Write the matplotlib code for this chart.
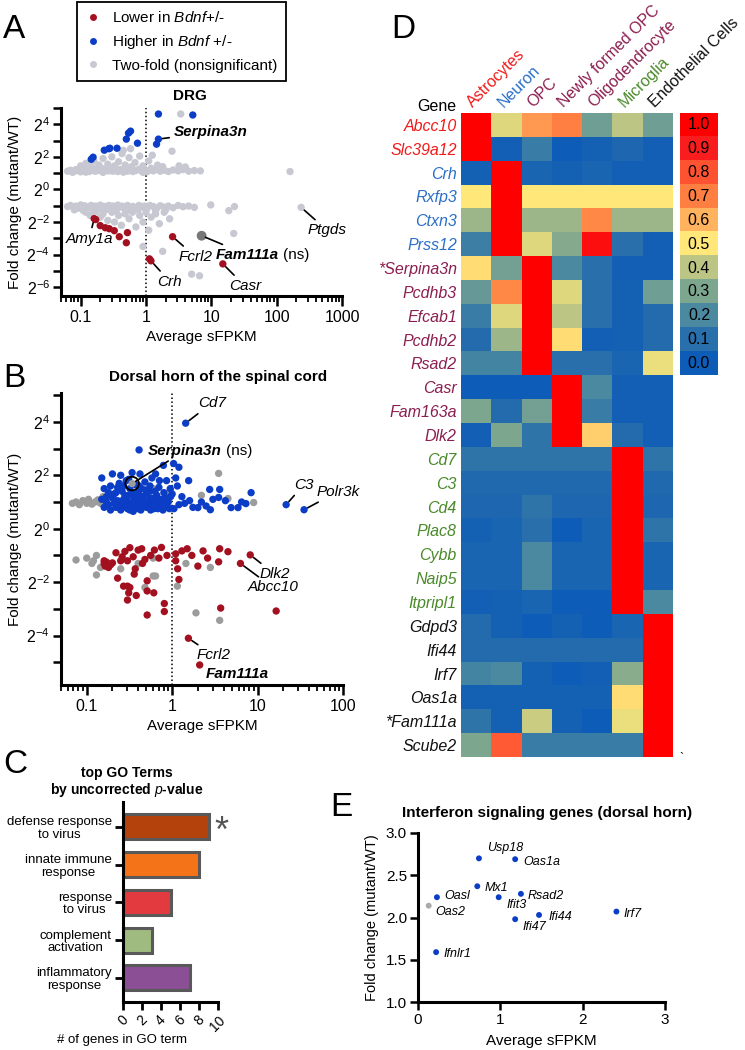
import numpy as np
import matplotlib
matplotlib.use("Agg")
import matplotlib.pyplot as plt
from matplotlib.colors import LinearSegmentedColormap
from matplotlib.lines import Line2D
from matplotlib.text import Text
from matplotlib.ticker import FixedLocator, FuncFormatter, LogLocator, NullFormatter

plt.rcParams["font.family"] = ["Liberation Sans", "DejaVu Sans"]
plt.rcParams["mathtext.fontset"] = "custom"
plt.rcParams["mathtext.rm"] = "Liberation Sans"
plt.rcParams["mathtext.it"] = "Liberation Sans:italic"
plt.rcParams["mathtext.bf"] = "Liberation Sans:bold"
plt.rcParams["mathtext.default"] = "regular"

# ── Panel A data: DRG (average sFPKM, log2 fold change) ─────────
drg_higher = [(5.2, 4.57), (0.58, 3.58), (0.54, 3.46), (0.50, 3.09), (0.74, 2.84),
              (1.45, 2.78), (0.36, 2.53), (0.28, 2.53), (0.27, 2.50), (0.23, 2.41),
              (0.155, 1.98), (0.145, 1.85), (1.55, 4.63)]
drg_lower = [(0.17, -1.85), (0.199, -2.22), (0.238, -2.35), (0.274, -2.41), (0.327, -2.53),
             (0.39, -2.90), (0.52, -2.65), (0.50, -3.27), (1.13, -4.26)]
drg_ns = [
    # upper two-fold band
    (0.063, 1.12), (0.07, 1.18), (0.078, 1.10), (0.085, 1.22), (0.092, 1.15), (0.10, 1.08),
    (0.108, 1.20), (0.115, 1.14), (0.125, 1.25), (0.135, 1.10), (0.145, 1.18), (0.155, 1.30),
    (0.17, 1.12), (0.185, 1.20), (0.20, 1.16), (0.215, 1.28), (0.23, 1.10), (0.25, 1.20),
    (0.27, 1.14), (0.29, 1.24), (0.31, 1.12), (0.34, 1.18), (0.37, 1.10), (0.40, 1.22),
    (0.43, 1.15), (0.47, 1.30), (0.52, 1.12), (0.57, 1.20), (0.63, 1.10), (0.70, 1.16),
    (0.78, 1.24), (0.86, 1.12), (0.95, 1.18), (1.05, 1.10), (1.15, 1.20), (1.30, 1.14),
    (1.45, 1.26), (1.65, 1.12), (1.90, 1.18), (2.20, 1.10), (2.60, 1.20), (3.10, 1.14),
    (3.70, 1.22), (4.50, 1.12), (5.50, 1.16), (6.80, 1.14), (160, 1.10),
    (0.075, 1.05), (0.095, 1.20), (0.12, 1.06), (0.16, 1.15), (0.22, 1.05), (0.33, 1.27),
    (0.45, 1.06), (0.60, 1.25), (0.90, 1.05), (1.20, 1.30),
    # upper scatter
    (0.10, 1.45), (0.12, 1.60), (0.14, 1.40), (0.16, 1.75), (0.19, 1.50), (0.22, 1.90),
    (0.26, 1.55), (0.30, 2.00), (0.33, 1.45), (0.38, 1.70), (0.43, 2.20), (0.48, 1.50),
    (0.55, 1.95), (0.60, 1.40), (0.68, 1.65), (0.80, 2.05), (0.90, 1.45), (1.10, 1.75),
    (1.25, 2.10), (1.50, 1.50), (1.80, 1.40), (2.50, 2.35), (0.58, 2.50), (0.45, 2.40),
    (3.20, 1.45), (4.00, 1.38), (3.40, 4.63),
    # lower two-fold band
    (0.063, -1.05), (0.07, -0.98), (0.078, -1.10), (0.085, -1.02), (0.092, -1.15), (0.10, -0.95),
    (0.108, -1.08), (0.115, -1.00), (0.125, -1.12), (0.135, -1.05), (0.145, -0.98), (0.155, -1.20),
    (0.17, -1.02), (0.185, -1.10), (0.20, -0.96), (0.215, -1.15), (0.23, -1.04), (0.25, -1.22),
    (0.27, -0.98), (0.29, -1.10), (0.31, -1.02), (0.34, -1.18), (0.37, -0.96), (0.40, -1.08),
    (0.43, -1.02), (0.47, -1.20), (0.52, -0.98), (0.57, -1.10), (0.63, -1.04), (0.70, -1.15),
    (0.78, -0.98), (0.86, -1.08), (0.95, -1.02), (1.05, -1.12), (1.15, -0.98), (1.30, -1.05),
    (1.45, -1.15), (1.65, -1.00), (1.90, -1.08), (2.20, -1.02), (2.60, -1.12), (3.10, -0.98),
    (3.70, -1.06), (4.50, -1.02), (5.50, -1.10), (9.8, -0.95), (18.5, -1.30), (22.6, -1.05),
    (0.08, -1.25), (0.11, -1.30), (0.14, -1.12), (0.18, -1.25), (0.24, -1.10), (0.35, -1.30),
    (0.50, -1.28), (0.75, -1.25), (1.00, -1.25), (1.40, -1.30), (2.00, -1.25),
    # lower scatter
    (0.12, -1.40), (0.14, -1.60), (0.17, -1.35), (0.20, -1.70), (0.22, -1.50), (0.26, -1.90),
    (0.30, -1.40), (0.33, -2.00), (0.38, -1.60), (0.42, -2.20), (0.48, -1.50), (0.55, -1.80),
    (0.62, -1.40), (0.70, -2.30), (0.80, -1.60), (0.90, -2.00), (1.00, -1.40), (1.10, -2.50),
    (1.20, -1.70), (1.40, -1.50), (1.60, -2.10), (1.90, -1.40), (2.30, -1.80), (0.90, -3.50),
    (1.80, -3.80), (22.0, -2.70), (5.0, -5.20), (6.6, -5.30),
]
# labelled genes: name, group, sFPKM, log2FC
drg_named = [("Serpina3n", "higher", 1.55, 3.09), ("Amy1a", "lower", 0.161, -1.79),
             ("Crh", "lower", 1.19, -4.38), ("Fcrl2", "lower", 2.55, -2.90),
             ("Fam111a", "ns_dark", 7.1, -2.84), ("Casr", "lower", 15.0, -4.57),
             ("Ptgds", "ns", 237, -1.10)]

# ── Panel B data: dorsal horn ─────────────────────────────────────
dh_higher = [
    (0.41, 2.95), (0.79, 2.37), (1.04, 2.44), (1.20, 2.30), (1.56, 1.80), (2.75, 1.47),
    (3.60, 1.47), (8.40, 1.35), (7.30, 0.94), (5.90, 0.79), (4.90, 0.79), (2.80, 0.71),
    (2.00, 0.79), (3.50, 1.17), (1.10, 1.90), (1.15, 1.60), (1.30, 1.20), (1.40, 0.95),
    (1.60, 1.05), (1.75, 0.80), (2.20, 1.00), (2.50, 0.85), (1.05, 0.75), (1.20, 0.90),
    (1.00, 1.30), (4.20, 1.05), (3.00, 1.10), (6.50, 1.00),
    (0.15, 1.90), (0.16, 1.50), (0.17, 1.20), (0.18, 0.90), (0.19, 1.60), (0.20, 2.05),
    (0.21, 1.30), (0.22, 0.80), (0.23, 1.05), (0.24, 1.70), (0.25, 0.70), (0.26, 1.40),
    (0.27, 1.10), (0.28, 0.90), (0.29, 1.80), (0.30, 0.75), (0.31, 1.25), (0.32, 1.50),
    (0.33, 0.95), (0.34, 2.10), (0.35, 0.65), (0.36, 1.15), (0.37, 1.65), (0.38, 0.85),
    (0.39, 1.35), (0.40, 1.00), (0.42, 2.05), (0.43, 0.70), (0.44, 1.50), (0.45, 1.20),
    (0.47, 0.90), (0.48, 1.75), (0.50, 0.80), (0.52, 1.05), (0.54, 1.40), (0.56, 0.70),
    (0.58, 1.90), (0.60, 1.00), (0.62, 0.85), (0.64, 2.05), (0.66, 1.25), (0.68, 0.75),
    (0.70, 1.55), (0.72, 0.95), (0.75, 1.10), (0.78, 0.70), (0.80, 1.35), (0.83, 0.85),
    (0.86, 1.80), (0.90, 1.00), (0.93, 0.75), (0.96, 1.20),
    (0.16, 0.80), (0.17, 1.00), (0.19, 0.70), (0.20, 1.15), (0.22, 1.35), (0.24, 0.95),
    (0.26, 0.80), (0.28, 1.25), (0.30, 1.05), (0.32, 0.70), (0.34, 1.30), (0.36, 0.90),
    (0.38, 1.10), (0.40, 0.75), (0.42, 1.25), (0.44, 0.85), (0.46, 1.00), (0.50, 1.30),
    (0.53, 0.90), (0.57, 1.15), (0.61, 0.75), (0.65, 0.95), (0.69, 1.10), (0.74, 0.85),
    (0.79, 1.00), (0.85, 1.15), (0.88, 0.80), (0.18, 1.35), (0.23, 1.55), (0.27, 1.60),
    (0.31, 1.85), (0.25, 2.00), (0.41, 1.60), (0.49, 1.45), (0.55, 1.60), (0.63, 1.40),
    (0.71, 1.80), (0.95, 1.50), (0.15, 1.10), (0.21, 0.95),
]
dh_lower = [
    (0.32, -0.71), (0.44, -0.75), (0.16, -1.20), (0.175, -1.30), (0.25, -1.20), (0.56, -1.00),
    (1.10, -0.94), (1.30, -0.83), (1.70, -1.00), (2.30, -0.83), (3.60, -0.75), (4.50, -0.86),
    (0.87, -1.00), (0.16, -1.30), (0.165, -1.40), (0.17, -1.25), (0.18, -1.45), (0.19, -1.35),
    (0.20, -1.28), (0.23, -1.85), (0.27, -2.15), (0.30, -2.15), (0.32, -2.20), (0.31, -2.40),
    (0.30, -2.67), (0.38, -2.50), (0.51, -1.95), (0.51, -2.33), (0.61, -2.40), (0.51, -3.23),
    (0.81, -2.80), (0.81, -3.10), (0.36, -1.70), (0.37, -1.50), (0.30, -1.20), (1.16, -1.50),
    (1.20, -1.90), (1.10, -1.20), (2.00, -1.40), (3.50, -1.24), (3.70, -2.97), (16.5, -3.08),
    (0.22, -0.90), (0.28, -0.85), (0.35, -1.05), (0.40, -0.80), (0.48, -1.15), (0.62, -0.80),
    (0.70, -1.10), (0.75, -0.70), (1.50, -0.75), (2.60, -1.10), (0.45, -1.30), (0.26, -1.05),
]
dh_ns = [
    (0.068, 0.95), (0.075, 1.00), (0.082, 0.90), (0.09, 1.05), (0.10, 0.95), (0.105, 1.10),
    (0.115, 0.92), (0.125, 1.00), (0.135, 1.08), (0.145, 0.95), (0.155, 1.20), (0.34, 0.98),
    (0.95, 1.43), (0.90, 1.30), (3.50, 2.07), (4.50, 1.13), (9.00, 0.98), (2.20, 1.25),
    (0.45, 1.10), (0.60, 1.50),
    (0.075, -1.17), (0.115, -1.30), (0.12, -1.20), (0.13, -1.73), (0.13, -1.00), (0.145, -1.45),
    (0.40, -1.30), (0.60, -1.77), (0.64, -1.77), (0.60, -1.10), (1.15, -2.15), (1.45, -1.30),
    (2.80, -1.45), (1.90, -3.15), (3.60, -3.43), (0.48, -2.20), (0.10, -1.10), (0.25, -1.50),
]
dh_named = [("Cd7", "higher", 1.44, 3.95), ("Serpina3n", "ns", 0.34, 1.69),
            ("C3", "higher", 21.6, 0.90), ("Polr3k", "higher", 35.0, 0.71),
            ("Dlk2", "lower", 8.2, -0.98), ("Abcc10", "lower", 6.3, -1.30),
            ("Fcrl2", "lower", 1.55, -4.10), ("Fam111a", "lower", 2.1, -5.10)]

# ── Panel C data ────────────────────────────────────────────────
go_terms = ["defense response\nto virus", "innate immune\nresponse", "response\nto virus",
            "complement\nactivation", "inflammatory\nresponse"]
go_counts = [9, 8, 5, 3, 7]
go_colors = ["#b4420c", "#f47318", "#e23a3f", "#9fbb80", "#8b4f95"]

# ── Panel D data ────────────────────────────────────────────────
cell_types = ["Astrocytes", "Neuron", "OPC", "Newly formed OPC", "Oligodendrocyte",
              "Microglia", "Endothelial Cells"]
cell_colors = ["#f01a1a", "#2a6fc8", "#8b1e50", "#8b1e50", "#8b1e50", "#4a8a2a", "#111111"]
genes = ["Abcc10", "Slc39a12", "Crh", "Rxfp3", "Ctxn3", "Prss12", "*Serpina3n", "Pcdhb3",
         "Efcab1", "Pcdhb2", "Rsad2", "Casr", "Fam163a", "Dlk2", "Cd7", "C3", "Cd4", "Plac8",
         "Cybb", "Naip5", "Itpripl1", "Gdpd3", "Ifi44", "Irf7", "Oas1a", "*Fam111a", "Scube2"]
gene_colors = (["#f01a1a"] * 2 + ["#2a6fc8"] * 4 + ["#8b1e50"] * 8 + ["#4a8a2a"] * 7
               + ["#111111"] * 6)
expr = [
    [1.00, 0.45, 0.65, 0.70, 0.27, 0.40, 0.27],
    [1.00, 0.02, 0.15, 0.00, 0.03, 0.06, 0.02],
    [0.03, 1.00, 0.05, 0.03, 0.05, 0.02, 0.02],
    [0.50, 1.00, 0.50, 0.50, 0.50, 0.50, 0.50],
    [0.35, 1.00, 0.35, 0.35, 0.68, 0.35, 0.35],
    [0.16, 1.00, 0.45, 0.31, 0.95, 0.10, 0.02],
    [0.52, 0.28, 1.00, 0.20, 0.10, 0.02, 0.02],
    [0.25, 0.68, 1.00, 0.45, 0.10, 0.03, 0.27],
    [0.15, 0.45, 1.00, 0.40, 0.10, 0.03, 0.08],
    [0.08, 0.35, 1.00, 0.52, 0.02, 0.03, 0.08],
    [0.18, 0.18, 1.00, 0.10, 0.10, 0.05, 0.47],
    [0.00, 0.00, 0.00, 1.00, 0.20, 0.02, 0.02],
    [0.30, 0.08, 0.28, 1.00, 0.15, 0.02, 0.02],
    [0.02, 0.30, 0.12, 1.00, 0.55, 0.08, 0.02],
    [0.12, 0.12, 0.12, 0.12, 0.12, 1.00, 0.12],
    [0.07, 0.07, 0.07, 0.07, 0.07, 1.00, 0.07],
    [0.06, 0.06, 0.12, 0.06, 0.06, 1.00, 0.06],
    [0.03, 0.05, 0.10, 0.00, 0.05, 1.00, 0.12],
    [0.05, 0.05, 0.20, 0.05, 0.05, 1.00, 0.05],
    [0.05, 0.05, 0.20, 0.05, 0.05, 1.00, 0.05],
    [0.02, 0.03, 0.05, 0.00, 0.00, 1.00, 0.20],
    [0.08, 0.03, 0.00, 0.03, 0.00, 0.05, 1.00],
    [0.08, 0.08, 0.08, 0.08, 0.08, 0.08, 1.00],
    [0.18, 0.20, 0.03, 0.00, 0.02, 0.32, 1.00],
    [0.03, 0.03, 0.03, 0.03, 0.03, 0.52, 1.00],
    [0.12, 0.03, 0.42, 0.03, 0.00, 0.47, 1.00],
    [0.30, 0.78, 0.15, 0.15, 0.15, 0.15, 1.00],
]
scale_levels = [1.0, 0.9, 0.8, 0.7, 0.6, 0.5, 0.4, 0.3, 0.2, 0.1, 0.0]
heat_colors = ["#0d5cb8", "#2a70ab", "#4a89a0", "#7fa78f", "#bcc583", "#ffe97b",
               "#ffb35f", "#ff7f43", "#ff5230", "#f91e1e", "#ff0000"]

# ── Panel E data ────────────────────────────────────────────────
ifn_genes = ["Usp18", "Oas1a", "Mx1", "Oasl", "Ifit3", "Rsad2", "Oas2", "Ifi44", "Ifi47",
             "Irf7", "Ifnlr1"]
ifn_fpkm = [0.74, 1.18, 0.72, 0.23, 0.98, 1.25, 0.13, 1.47, 1.18, 2.41, 0.22]
ifn_fc = [2.70, 2.69, 2.37, 2.24, 2.24, 2.28, 2.14, 2.03, 1.98, 2.07, 1.59]
ifn_sig = [True, True, True, True, True, True, False, True, True, True, True]

RED, BLUE = "#a3101f", "#0b3dc6"
GRAY_A, GRAY_B, GRAY_DARK = "#c8c8d2", "#9c9c9c", "#777777"
group_color = {"higher": BLUE, "lower": RED}

W, H = 745, 1050
fig = plt.figure(figsize=(W / 100, H / 100), dpi=100)
renderer = fig.canvas.get_renderer()


def px_axes(left, top, right, bottom):
    return fig.add_axes([left / W, 1 - bottom / H, (right - left) / W, (bottom - top) / H])


def ftext(x, y, s, **kw):
    return fig.text(x / W, 1 - y / H, s, **kw)


def add_ns(ann, extra, size):
    # append a plain "(ns)" after a bold-italic label
    bb = Text.get_window_extent(ann, renderer)
    fig.text((bb.x1 + 4) / W, (bb.y0 + bb.y1) / 2 / H, extra, va="center", fontsize=size)


def volcano_axes(rect, xlim, ylo, yhi, majors, minors):
    ax = px_axes(*rect)
    ax.set_xscale("log")
    ax.set_yscale("log", base=2)
    ax.set_xlim(*xlim)
    ax.set_ylim(2.0 ** ylo, 2.0 ** yhi)
    ax.yaxis.set_major_locator(FixedLocator([2.0 ** k for k in majors]))
    ax.yaxis.set_minor_locator(FixedLocator([2.0 ** k for k in minors]))
    ax.yaxis.set_major_formatter(FuncFormatter(lambda v, p: r"$2^{%d}$" % round(np.log2(v))))
    ax.yaxis.set_minor_formatter(NullFormatter())
    ax.xaxis.set_major_locator(LogLocator(base=10, numticks=12))
    ax.xaxis.set_minor_locator(LogLocator(base=10, subs=np.arange(2, 10), numticks=12))
    ax.xaxis.set_major_formatter(FuncFormatter(lambda v, p: f"{v:g}"))
    ax.xaxis.set_minor_formatter(NullFormatter())
    for side in ("top", "right"):
        ax.spines[side].set_visible(False)
    for side in ("left", "bottom"):
        ax.spines[side].set_linewidth(2.2)
    ax.tick_params(which="both", direction="out", width=1.8, labelsize=11.5)
    ax.tick_params(axis="y", which="both", length=6, pad=2)
    ax.tick_params(axis="x", which="major", length=7, pad=3)
    ax.tick_params(axis="x", which="minor", length=4, width=1.3)
    ax.axvline(1, color="k", lw=1.1, ls=(0, (1, 1.6)), zorder=1)
    ax.set_xlabel("Average sFPKM", fontsize=11, labelpad=4)
    ax.set_ylabel("Fold change (mutant/WT)", fontsize=11, labelpad=3)
    return ax


def dots(ax, pts, color, s=28, z=3):
    x, y = np.array(pts, dtype=float).T
    ax.scatter(x, 2.0 ** y, s=s, c=color, edgecolors="none", zorder=z, clip_on=False)


def label(ax, x, y, name, dx, dy, bold=False, ha="left", line=True, size=11):
    arrow = dict(arrowstyle="-", color="k", lw=1.2, shrinkA=1, shrinkB=3) if line else None
    return ax.annotate(name, (x, y), xytext=(dx, dy), textcoords="offset pixels",
                       ha=ha, va="center", style="italic", fontsize=size,
                       weight="bold" if bold else "normal", arrowprops=arrow, zorder=5)


# ── Panel A ─────────────────────────────────────────────────────
axA = volcano_axes((61, 108, 342, 296), (0.05, 1000), -6.54, 5,
                   [-6, -4, -2, 0, 2, 4], [-5, -3, -1, 1, 3, 5])
dots(axA, drg_ns, GRAY_A, z=2)
dots(axA, drg_higher, BLUE)
dots(axA, drg_lower, RED)
a_style = {"Serpina3n": (15, 7, True, "left"), "Amy1a": (-5, -20, False, "center"),
           "Crh": (19, -21, False, "center"), "Fcrl2": (23, -20, False, "center"),
           "Fam111a": (14, -19, True, "left"), "Casr": (22, -22, False, "center"),
           "Ptgds": (26, -23, False, "center")}
a_anns = {}
for name, grp, x, lfc in drg_named:
    col = {"ns": GRAY_A, "ns_dark": GRAY_DARK}.get(grp, group_color.get(grp))
    dots(axA, [(x, lfc)], col, s=50 if grp == "ns_dark" else 28, z=4)
    dx, dy, bold, ha = a_style[name]
    a_anns[name] = label(axA, x, 2.0 ** lfc, name, dx, dy, bold=bold, ha=ha)

ftext(190, 100, "DRG", ha="center", fontsize=11, weight="bold")
handles = [Line2D([], [], ls="none", marker="o", ms=5, mec="none", mfc=c) for c in (RED, BLUE, GRAY_A)]
fig.legend(handles, ["Lower in $\\mathit{Bdnf}$+/-", "Higher in $\\mathit{Bdnf}$ +/-",
                     "Two-fold (nonsignificant)"],
           loc="upper left", bbox_to_anchor=(77 / W, 1 - 2 / H), fontsize=11, frameon=True,
           fancybox=False, edgecolor="k", framealpha=1, borderpad=0.55, labelspacing=0.5,
           handlelength=1.0, handletextpad=0.75, borderaxespad=0).get_frame().set_linewidth(1.3)

# ── Panel B ─────────────────────────────────────────────────────
axB = volcano_axes((61, 393, 343, 685), (0.05, 100), -5.85, 5.08,
                   [-4, -2, 0, 2, 4], [-5, -3, -1, 1, 3, 5])
dots(axB, dh_ns, GRAY_B, z=2)
dots(axB, dh_higher, BLUE)
dots(axB, dh_lower, RED)
b_style = {"Cd7": (12, 20, False, True), "Serpina3n": (16, 33, True, True),
           "C3": (8, 20, False, True), "Polr3k": (12, 18, False, True),
           "Dlk2": (9, -19, False, True), "Abcc10": (7, -24, False, True),
           "Fcrl2": (8, -17, False, True), "Fam111a": (6, -9, True, False)}
b_anns = {}
for name, grp, x, lfc in dh_named:
    dots(axB, [(x, lfc)], GRAY_B if grp == "ns" else group_color[grp], z=4)
    dx, dy, bold, line = b_style[name]
    b_anns[name] = label(axB, x, 2.0 ** lfc, name, dx, dy, bold=bold, line=line)
    if grp == "ns":
        axB.scatter([x], [2.0 ** lfc], s=95, facecolors="none", edgecolors="k",
                    linewidths=1.3, zorder=5)
ftext(218, 381, "Dorsal horn of the spinal cord", ha="center", fontsize=11, weight="bold")

# ── Panel C ─────────────────────────────────────────────────────
axC = px_axes(123, 802, 218, 1002)
axC.barh(range(len(go_terms)), go_counts, height=0.66, color=go_colors,
         edgecolor="#595959", linewidth=2.2)
axC.set_ylim(len(go_terms) - 0.36, -0.66)
axC.set_xlim(0, 10)
axC.set_yticks(range(len(go_terms)))
axC.set_yticklabels(go_terms, fontsize=9.5, multialignment="center", linespacing=1.05)
axC.set_xticks(range(0, 11, 2))
axC.set_xticklabels([str(v) for v in range(0, 11, 2)], rotation=45, fontsize=10)
for side in ("top", "right"):
    axC.spines[side].set_visible(False)
for side in ("left", "bottom"):
    axC.spines[side].set_linewidth(2.2)
axC.tick_params(direction="out", width=2, length=6, pad=2)
axC.annotate("*", (go_counts[0], 0), xytext=(13, -6), textcoords="offset pixels",
             ha="center", va="center", fontsize=26, color="#555555")
ftext(127, 777, "top GO Terms", ha="center", fontsize=10, weight="bold")
ftext(127, 794, "by uncorrected $\\mathit{p}$-value", ha="center", fontsize=10, weight="bold")
ftext(122, 1043, "# of genes in GO term", ha="center", fontsize=9.5)

# ── Panel D ─────────────────────────────────────────────────────
heat_cmap = LinearSegmentedColormap.from_list("expr", heat_colors)
axD = px_axes(461, 113, 673, 757)
axD.imshow(np.array(expr), cmap=heat_cmap, vmin=0, vmax=1, aspect="auto",
           interpolation="nearest")
axD.set_xticks([])
axD.set_yticks(range(len(genes)))
axD.set_yticklabels(genes, style="italic", fontsize=11.5)
for lab, c in zip(axD.get_yticklabels(), gene_colors):
    lab.set_color(c)
axD.tick_params(axis="y", length=0, pad=3)
for s in axD.spines.values():
    s.set_visible(False)
for j, (name, c) in enumerate(zip(cell_types, cell_colors)):
    axD.text(j - 0.1, -0.72, name, rotation=45, rotation_mode="anchor", ha="left",
             va="baseline", color=c, fontsize=11.5)
ftext(456, 111, "Gene", ha="right", va="baseline", fontsize=11.5)

axS = px_axes(680, 113, 718, 113 + 23.85 * len(scale_levels))
axS.imshow(np.array(scale_levels)[:, None], cmap=heat_cmap, vmin=0, vmax=1, aspect="auto")
for i, v in enumerate(scale_levels):
    axS.text(0, i, f"{v:.1f}", ha="center", va="center", fontsize=11.5)
axS.set_xticks([])
axS.set_yticks([])
for s in axS.spines.values():
    s.set_visible(False)
ftext(679, 762, "`", fontsize=9)

# ── Panel E ─────────────────────────────────────────────────────
axE = px_axes(418, 833, 665, 1002)
axE.scatter(ifn_fpkm, ifn_fc, s=18, edgecolors="none", zorder=3, clip_on=False,
            c=[BLUE if s else "#aaaaaa" for s in ifn_sig])
e_offsets = [(8, 10), (8, -3), (7, -2), (7, 1), (8, -8), (7, -2), (7, -6), (9, -2),
             (7, -8), (7, -2), (7, -2)]
for g, x, y, (dx, dy) in zip(ifn_genes, ifn_fpkm, ifn_fc, e_offsets):
    axE.annotate(g, (x, y), xytext=(dx, dy), textcoords="offset pixels", ha="left",
                 va="center", style="italic", fontsize=9)
axE.set_xlim(0, 3)
axE.set_ylim(1, 3)
axE.set_xticks([0, 1, 2, 3])
axE.set_yticks([1.0, 1.5, 2.0, 2.5, 3.0])
axE.yaxis.set_major_formatter(FuncFormatter(lambda v, p: f"{v:.1f}"))
for side in ("top", "right"):
    axE.spines[side].set_visible(False)
for side in ("left", "bottom"):
    axE.spines[side].set_linewidth(2.2)
axE.tick_params(direction="out", width=1.8, length=6, labelsize=11, pad=2)
axE.set_xlabel("Average sFPKM", fontsize=11, labelpad=5)
axE.set_ylabel("Fold change (mutant/WT)", fontsize=10.5, labelpad=5)
ftext(547, 817, "Interferon signaling genes (dorsal horn)", ha="center", fontsize=11,
      weight="bold")

# ── Panel letters ───────────────────────────────────────────────
for letter, x, y in [("A", 3, 38), ("B", 3, 387), ("C", 3, 773), ("D", 391, 38), ("E", 330, 816)]:
    ftext(x, y, letter, fontsize=24, va="baseline")

# "(ns)" suffixes need the drawn label extents
fig.canvas.draw()
add_ns(a_anns["Fam111a"], "(ns)", 11)
add_ns(b_anns["Serpina3n"], "(ns)", 11)

fig.savefig("out.png", dpi=100)
